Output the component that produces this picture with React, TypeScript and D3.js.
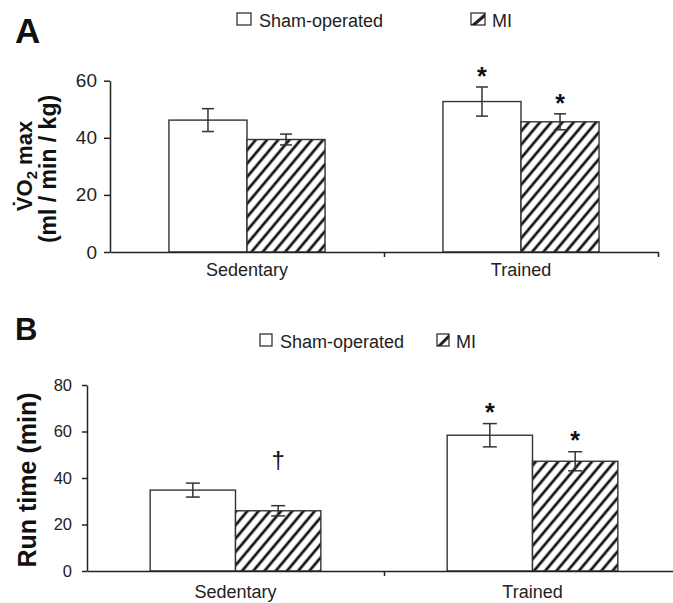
import React, { useEffect, useRef } from 'react';
import * as d3 from 'd3';

const categories = ['Sedentary', 'Trained'];
const groups = ['Sham-operated', 'MI'];

// panel A: VO2 max
const vo2Sham = [46.2, 52.7];
const vo2ShamErr = [4.0, 5.1];
const vo2MI = [39.4, 45.6];
const vo2MIErr = [1.9, 2.8];
const vo2Marks = [['', '*'], ['', '*']];
const vo2Ticks = [0, 20, 40, 60];

// panel B: run time
const runSham = [34.8, 58.4];
const runShamErr = [3.0, 5.0];
const runMI = [25.9, 47.2];
const runMIErr = [2.2, 4.1];
const runMarks = [['', '*'], ['†', '*']];
const runTicks = [0, 20, 40, 60, 80];

const FONT = '"Liberation Sans", Arial, Helvetica, sans-serif';
const INK = '#222';

function drawPanel(svg, o) {
  const g = svg.append('g');

  const y = d3.scaleLinear().domain([0, d3.max(o.ticks)]).range([o.bottom, o.top]);
  const x = d3.scaleBand().domain(categories).range([o.left, o.right]).padding(0);
  const xs = d3.scaleBand().domain(groups).range([0, x.bandwidth()]).paddingInner(0).paddingOuter(o.outer);
  const xb = d3.scaleLinear().domain([0, categories.length]).range([o.left, o.right]);

  const rows = [];
  groups.forEach((grp, gi) => {
    categories.forEach((cat, ci) => {
      rows.push({ grp, gi, cat, v: o.values[gi][ci], e: o.errs[gi][ci], m: o.marks[gi][ci] });
    });
  });

  g.selectAll('rect.bar').data(rows).enter().append('rect')
    .attr('class', 'bar')
    .attr('x', d => x(d.cat) + xs(d.grp))
    .attr('y', d => y(d.v))
    .attr('width', xs.bandwidth())
    .attr('height', d => y(0) - y(d.v))
    .attr('fill', d => d.gi === 0 ? '#fff' : 'url(#hatch)')
    .attr('stroke', '#333')
    .attr('stroke-width', 1.4);

  // error bars
  const eb = g.selectAll('g.err').data(rows).enter().append('g').attr('class', 'err')
    .attr('stroke', '#333').attr('stroke-width', 1.5);
  const cx = d => x(d.cat) + xs(d.grp) + xs.bandwidth() / 2;
  eb.append('line')
    .attr('x1', cx).attr('x2', cx)
    .attr('y1', d => y(d.v + d.e)).attr('y2', d => y(d.v - d.e));
  eb.append('line')
    .attr('x1', d => cx(d) - o.cap / 2).attr('x2', d => cx(d) + o.cap / 2)
    .attr('y1', d => y(d.v + d.e)).attr('y2', d => y(d.v + d.e));
  eb.append('line')
    .attr('x1', d => cx(d) - o.cap / 2).attr('x2', d => cx(d) + o.cap / 2)
    .attr('y1', d => y(d.v - d.e)).attr('y2', d => y(d.v - d.e));

  // significance marks
  g.selectAll('text.mark').data(rows.filter(d => d.m)).enter().append('text')
    .attr('class', 'mark')
    .attr('x', cx)
    .attr('y', d => d.m === '*' ? y(d.v + d.e) - 16 + 0.55 * o.starSize : y(d.v + d.e) - o.daggerGap)
    .attr('text-anchor', 'middle')
    .attr('font-family', FONT)
    .attr('font-weight', d => d.m === '*' ? 'bold' : 'normal')
    .attr('font-size', d => d.m === '*' ? o.starSize : o.daggerSize)
    .attr('fill', '#111')
    .text(d => d.m);

  // y axis
  const ya = g.append('g')
    .attr('transform', `translate(${o.left},0)`)
    .call(d3.axisLeft(y).tickValues(o.ticks).tickSize(o.tick).tickSizeOuter(0).tickPadding(o.tickPad));
  ya.select('.domain').attr('stroke', INK).attr('stroke-width', 1.5);
  ya.selectAll('.tick line').attr('stroke', INK).attr('stroke-width', 1.5);
  ya.selectAll('.tick text').attr('font-family', FONT).attr('font-size', o.tickFont).attr('fill', INK);

  // x axis (boundary ticks only)
  const xa = g.append('g')
    .attr('transform', `translate(0,${o.bottom})`)
    .call(d3.axisBottom(xb).tickValues(d3.range(1, categories.length + 1)).tickSize(5).tickSizeOuter(0).tickFormat(() => ''));
  xa.select('.domain').attr('stroke', INK).attr('stroke-width', 1.5);
  xa.selectAll('.tick line').attr('stroke', INK).attr('stroke-width', 1.5);

  g.selectAll('text.cat').data(categories).enter().append('text')
    .attr('class', 'cat')
    .attr('x', d => x(d) + x.bandwidth() / 2)
    .attr('y', o.bottom + o.catGap)
    .attr('text-anchor', 'middle')
    .attr('font-family', FONT)
    .attr('font-size', 18)
    .attr('fill', INK)
    .text(d => d);

  // panel letter
  g.append('text')
    .attr('x', 15).attr('y', o.letterY)
    .attr('font-family', FONT).attr('font-weight', 'bold').attr('font-size', o.letterSize)
    .attr('fill', '#111')
    .text(o.letter);

  // legend
  const lg = g.append('g').attr('font-family', FONT).attr('font-size', 18).attr('fill', INK);
  const s = o.legend;
  lg.append('rect')
    .attr('x', s.shamX).attr('y', s.boxY).attr('width', s.boxW).attr('height', s.boxH)
    .attr('fill', '#fff').attr('stroke', '#333').attr('stroke-width', 1.3);
  lg.append('text').attr('x', s.shamX + s.boxW + 8).attr('y', s.textY).text(groups[0]);
  lg.append('rect')
    .attr('x', s.miX).attr('y', s.boxY).attr('width', s.boxW).attr('height', s.boxH)
    .attr('fill', '#fff').attr('stroke', '#333').attr('stroke-width', 1.3);
  lg.append('path')
    .attr('d', `M${s.miX},${s.boxY + s.boxH} L${s.miX + s.boxW},${s.boxY} L${s.miX + s.boxW},${s.boxY + s.boxH * 0.35} L${s.miX + s.boxW * 0.35},${s.boxY + s.boxH} Z`)
    .attr('fill', '#222');
  lg.append('text').attr('x', s.miX + s.boxW + 7).attr('y', s.textY).text(groups[1]);

  return g;
}

export default function App() {
  const ref = useRef(null);

  useEffect(() => {
    const svg = d3.select(ref.current);
    svg.selectAll('*').remove();

    const defs = svg.append('defs');
    const pat = defs.append('pattern')
      .attr('id', 'hatch')
      .attr('patternUnits', 'userSpaceOnUse')
      .attr('width', 8.6).attr('height', 8.6)
      .attr('patternTransform', 'rotate(40)');
    pat.append('rect').attr('width', 8.6).attr('height', 8.6).attr('fill', '#fff');
    pat.append('line').attr('x1', 2).attr('x2', 2).attr('y1', -1).attr('y2', 10)
      .attr('stroke', '#111').attr('stroke-width', 2.7);

    drawPanel(svg, {
      left: 110, right: 658, bottom: 252, top: 80.7,
      ticks: vo2Ticks, values: [vo2Sham, vo2MI], errs: [vo2ShamErr, vo2MIErr], marks: vo2Marks,
      outer: 0.755, cap: 12, tick: 6, tickPad: 7, tickFont: 19,
      starSize: 25, daggerSize: 24, daggerGap: 38, catGap: 24,
      letter: 'A', letterY: 43, letterSize: 35,
      legend: { shamX: 237, miX: 471, boxY: 13, boxW: 14, boxH: 12, textY: 27 },
    });

    drawPanel(svg, {
      left: 87, right: 681, bottom: 571, top: 385,
      ticks: runTicks, values: [runSham, runMI], errs: [runShamErr, runMIErr], marks: runMarks,
      outer: 0.74, cap: 14, tick: 5, tickPad: 10, tickFont: 16.5,
      starSize: 25, daggerSize: 24, daggerGap: 38, catGap: 27,
      letter: 'B', letterY: 340, letterSize: 31,
      legend: { shamX: 260, miX: 437, boxY: 334, boxW: 12, boxH: 12, textY: 348 },
    });

    // y axis titles
    const t1 = svg.append('text')
      .attr('transform', 'translate(32,166) rotate(-90)')
      .attr('text-anchor', 'middle')
      .attr('font-family', FONT).attr('font-weight', 'bold').attr('font-size', 22)
      .attr('fill', '#111');
    t1.append('tspan').text('V\u0307O');
    t1.append('tspan').attr('dy', 5).attr('font-size', 15).text('2');
    t1.append('tspan').attr('dy', -5).text(' max');

    svg.append('text')
      .attr('transform', 'translate(56,169) rotate(-90)')
      .attr('text-anchor', 'middle')
      .attr('font-family', FONT).attr('font-weight', 'bold').attr('font-size', 23)
      .attr('fill', '#111')
      .text('(ml / min / kg)');

    svg.append('text')
      .attr('transform', 'translate(36,480) rotate(-90)')
      .attr('text-anchor', 'middle')
      .attr('font-family', FONT).attr('font-weight', 'bold').attr('font-size', 25)
      .attr('fill', '#111')
      .text('Run time (min)');
  }, []);

  return (
    <svg
      ref={ref}
      width={673}
      height={603}
      style={{ position: 'absolute', left: 0, top: 0, background: '#fff' }}
    />
  );
}
